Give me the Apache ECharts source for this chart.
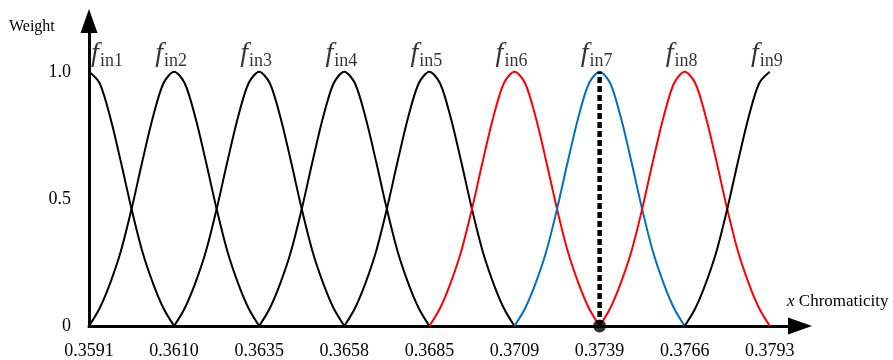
<!DOCTYPE html>
<html>
<head>
<meta charset="utf-8">
<script src="https://cdn.jsdelivr.net/npm/echarts@6/dist/echarts.min.js"></script>
<style>
  html, body { margin: 0; padding: 0; background: #fff; }
  #chart { width: 893px; height: 360px; }
</style>
</head>
<body>
<div id="chart"></div>
<script>
// x tick labels (evenly spaced on the axis)
var tickLabels = ['0.3591', '0.3610', '0.3635', '0.3658', '0.3685', '0.3709', '0.3739', '0.3766', '0.3793'];
var yTickLabels = { '0': '0', '0.5': '0.5', '1': '1.0' };
// membership functions: name, peak position (tick index), drawn span, colour
var curveNames = ['in1', 'in2', 'in3', 'in4', 'in5', 'in6', 'in7', 'in8', 'in9'];
var peakIndex = [0, 1, 2, 3, 4, 5, 6, 7, 8];
var curveFrom = [0, -1, -1, -1, -1, -1, -1, -1, -1];
var curveTo = [1, 1, 1, 1, 1, 1, 1, 1, 0];
var curveColor = ['#000', '#000', '#000', '#000', '#000', '#ff0000', '#0070c0', '#ff0000', '#000'];
// weight profile (offset in tick spacings)
var profileOffset = [-1, -0.875, -0.75, -0.625, -0.5, -0.375, -0.25, -0.125, 0, 0.125, 0.25, 0.375, 0.5, 0.625, 0.75, 0.875, 1];
var profileWeight = [0, 0.07, 0.17, 0.295, 0.46, 0.645, 0.82, 0.955, 1, 0.955, 0.82, 0.645, 0.46, 0.295, 0.17, 0.07, 0];
// marker at f_in7
var markerIndex = 6;
var markerWeight = [0, 1];

var serif = 'Liberation Serif';
var series = [];
curveNames.forEach(function (nm, k) {
    var pts = [];
    for (var j = 0; j < profileOffset.length; j++) {
        if (profileOffset[j] >= curveFrom[k] && profileOffset[j] <= curveTo[k]) {
            pts.push([peakIndex[k] + profileOffset[j], profileWeight[j]]);
        }
    }
    series.push({
        name: 'f' + nm,
        type: 'line',
        smooth: 0.3,
        symbol: 'none',
        lineStyle: { color: curveColor[k], width: 2 },
        data: pts,
        z: 3
    });
});

// curve labels
series.push({
    type: 'scatter',
    symbolSize: 1,
    itemStyle: { color: 'rgba(0,0,0,0)' },
    data: curveNames.map(function (nm, k) {
        return {
            value: [peakIndex[k], 1],
            label: { offset: k === 0 ? [18, 0] : [-3, 0] }
        };
    }),
    label: {
        show: true,
        position: 'top',
        distance: 4,
        formatter: function (p) {
            return '{f|f}{s|' + curveNames[p.dataIndex] + '}';
        },
        rich: {
            f: { fontFamily: serif, fontStyle: 'italic', fontSize: 28, color: '#000', verticalAlign: 'bottom', lineHeight: 30 },
            s: { fontFamily: serif, fontSize: 18, color: '#000', verticalAlign: 'bottom', lineHeight: 30, padding: [0, 0, -3, 1] }
        }
    },
    z: 5
});

// dashed line and dot
series.push({
    type: 'line',
    symbol: 'none',
    lineStyle: { color: '#000', width: 4.5, type: [6, 3] },
    data: markerWeight.map(function (w) { return [markerIndex, w]; }),
    z: 6
});
series.push({
    type: 'scatter',
    symbol: 'circle',
    symbolSize: 13,
    itemStyle: { color: '#000' },
    data: [[markerIndex, markerWeight[0]]],
    z: 7
});

var myChart = echarts.init(document.getElementById('chart'));
var option = {
    backgroundColor: '#fff',
    animation: false,
    grid: { left: 89, right: 93, top: 21, bottom: 34 },
    xAxis: {
        type: 'value',
        min: 0,
        max: 8.355,
        interval: 1,
        axisLine: {
            show: true,
            onZero: false,
            symbol: ['none', 'triangle'],
            symbolSize: [17, 24],
            lineStyle: { color: '#000', width: 3 }
        },
        axisTick: { show: false },
        splitLine: { show: false },
        axisLabel: {
            margin: 16,
            fontFamily: serif,
            fontSize: 18,
            color: '#000',
            showMaxLabel: false,
            formatter: function (v) { return tickLabels[v] !== undefined && v === Math.round(v) ? tickLabels[v] : ''; }
        }
    },
    yAxis: {
        type: 'value',
        min: 0,
        max: 1.2,
        interval: 0.5,
        axisLine: {
            show: true,
            symbol: ['none', 'triangle'],
            symbolSize: [17, 24],
            lineStyle: { color: '#000', width: 3 }
        },
        axisTick: { show: false },
        splitLine: { show: false },
        axisLabel: {
            margin: 18,
            fontFamily: serif,
            fontSize: 18,
            color: '#000',
            showMaxLabel: false,
            formatter: function (v) { return yTickLabels[String(v)] || ''; }
        }
    },
    graphic: [
        {
            type: 'text', left: 9, top: 19,
            style: { text: 'Weight', fontFamily: serif, fontSize: 16, fill: '#000' }
        },
        {
            type: 'text', left: 787, top: 293,
            style: {
                text: '{i|x} Chromaticity',
                fontFamily: serif, fontSize: 17, fill: '#000',
                rich: { i: { fontFamily: serif, fontStyle: 'italic', fontSize: 17, fill: '#000' } }
            }
        }
    ],
    series: series
};
myChart.setOption(option);
</script>
</body>
</html>
